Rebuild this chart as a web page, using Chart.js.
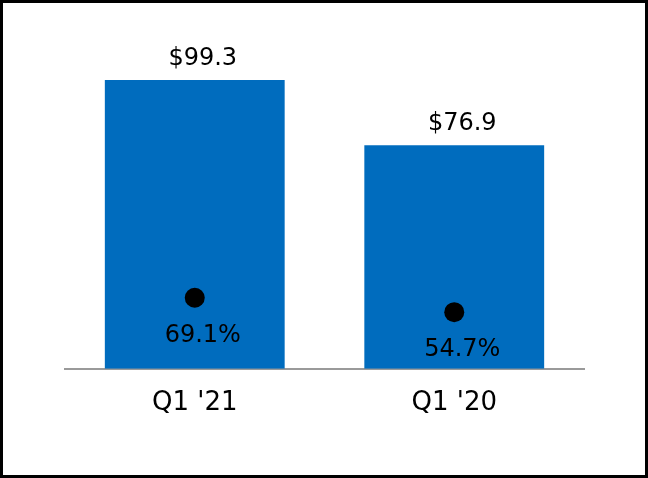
<!DOCTYPE html>
<html>
<head>
<meta charset="utf-8">
<script src="https://cdn.jsdelivr.net/npm/chart.js@4.4.0/dist/chart.umd.min.js"></script>
<style>
  html, body { margin: 0; padding: 0; background: #fff; }
  #wrap { width: 648px; height: 478px; border: 3px solid #000; box-sizing: border-box; }
  canvas { display: block; }
</style>
</head>
<body>
<div id="wrap"><canvas id="grafico" width="642" height="472"></canvas></div>
<script>
const categorias = ["Q1 '21", "Q1 '20"];
const receita = [99.3, 76.9];
const margem = [69.1, 54.7];

const fonte = 'DejaVu Sans';

// desenha os rótulos em cima das barras e abaixo dos pontos
const rotulosPlugin = {
    id: 'rotulos',
    afterDatasetsDraw(chart) {
        const ctx = chart.ctx;
        ctx.save();
        ctx.fillStyle = '#000';
        ctx.textAlign = 'center';
        ctx.textBaseline = 'middle';
        ctx.font = '24px "' + fonte + '"';

        chart.getDatasetMeta(0).data.forEach((barra, i) => {
            ctx.fillText('$' + receita[i].toFixed(1), barra.x + 8, barra.y - 21);
        });
        chart.getDatasetMeta(1).data.forEach((ponto, i) => {
            ctx.fillText(margem[i].toFixed(1) + '%', ponto.x + 8, ponto.y + 38);
        });
        ctx.restore();
    }
};

const ctx = document.getElementById('grafico').getContext('2d');
new Chart(ctx, {
    type: 'bar',
    data: {
        labels: categorias,
        datasets: [
            {
                label: 'Receita',
                data: receita,
                backgroundColor: '#006CBE',
                barPercentage: 0.693,
                categoryPercentage: 1,
                yAxisID: 'y',
                order: 2
            },
            {
                type: 'line',
                label: 'Margem',
                data: margem,
                showLine: false,
                pointRadius: 10,
                pointHoverRadius: 10,
                pointBackgroundColor: '#000',
                pointBorderColor: '#000',
                pointBorderWidth: 0,
                yAxisID: 'y2',
                order: 1
            }
        ]
    },
    options: {
        responsive: false,
        animation: false,
        devicePixelRatio: 1,
        layout: { padding: { left: 62, right: 61, top: 75, bottom: 37 } },
        plugins: {
            legend: { display: false },
            tooltip: { enabled: false }
        },
        scales: {
            x: {
                grid: { display: false, drawTicks: false },
                border: { display: true, color: '#9a9a9a', width: 2 },
                ticks: {
                    color: '#000',
                    padding: 19,
                    font: { family: fonte, size: 26 }
                }
            },
            y: { display: false, min: 0, max: 100 },
            y2: { display: false, min: -2, max: 289 }
        }
    },
    plugins: [rotulosPlugin]
});
</script>
</body>
</html>
